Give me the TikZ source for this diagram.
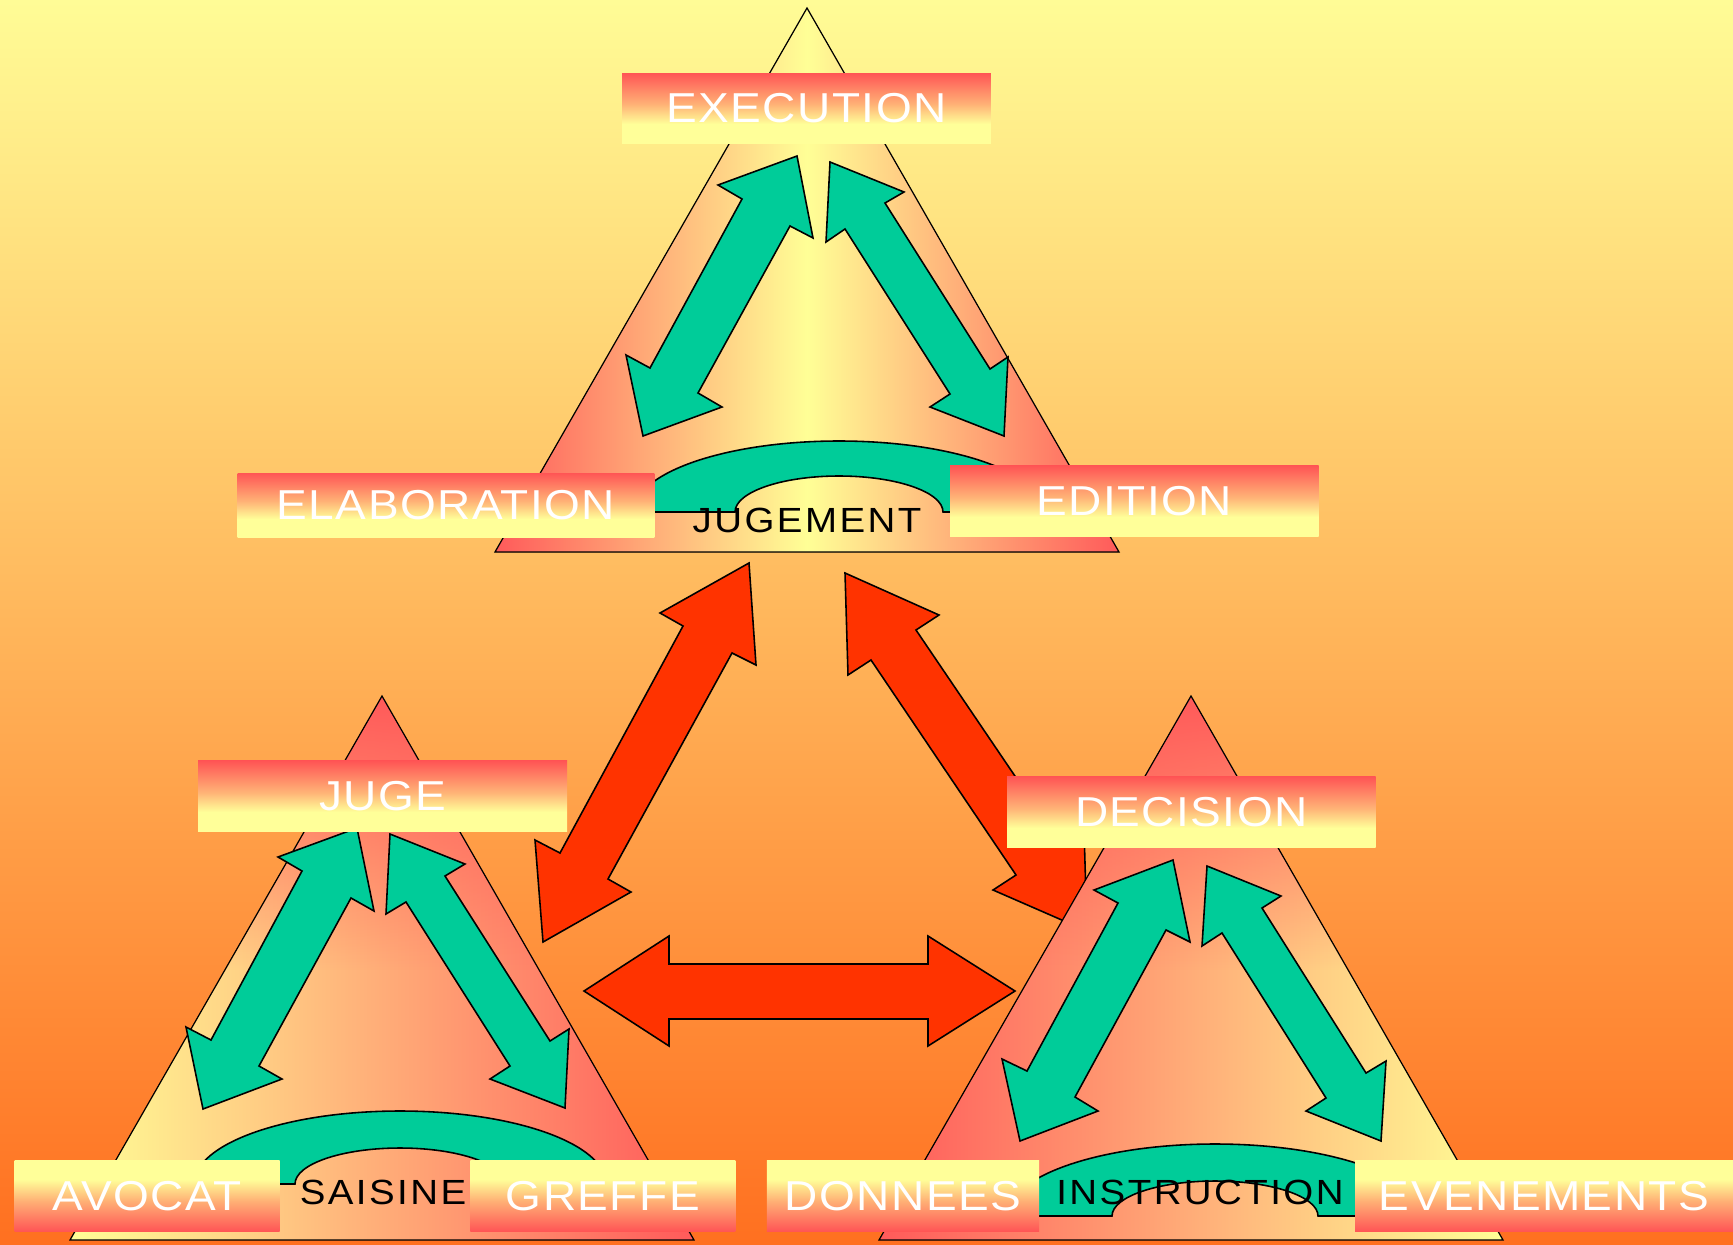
\documentclass[tikz,border=0pt]{standalone}
\usepackage{fontspec}
\setmainfont{Liberation Sans}
\newfontfamily\boxfont{Liberation Sans}[FakeStretch=1.10, LetterSpace=3.5]
\newfontfamily\midfont{Liberation Sans}[FakeStretch=1.10, LetterSpace=7]
\usetikzlibrary{fadings}

\definecolor{bgTop}{RGB}{255,252,150}
\definecolor{bgBot}{RGB}{255,112,32}
\definecolor{triRed}{RGB}{255,90,90}
\definecolor{triYel}{RGB}{255,255,150}
\definecolor{labRed}{RGB}{255,85,85}
\definecolor{labMid}{RGB}{255,178,118}
\definecolor{labYel}{RGB}{255,255,153}
\definecolor{arrGreen}{RGB}{0,204,153}
\definecolor{arrRed}{RGB}{255,51,0}

\pgfdeclareverticalshading{labdown}{100bp}{color(0bp)=(labYel); color(39bp)=(labYel); color(53bp)=(labMid); color(75bp)=(labRed); color(100bp)=(labRed)}
\pgfdeclareverticalshading{labup}{100bp}{color(0bp)=(labRed); color(25bp)=(labRed); color(47bp)=(labMid); color(62bp)=(labYel); color(100bp)=(labYel)}
\tikzfading[name=topred, top color=transparent!0, bottom color=transparent!100]

\tikzset{
	triline/.style={draw=black, line width=0.7pt},
	greenarrow/.style={fill=arrGreen, draw=black, line width=0.9pt},
	redarrow/.style={fill=arrRed, draw=black, line width=0.9pt},
	labtop/.style={shading=labdown, inner sep=0pt, minimum height=1.42cm, text=white, font=\boxfont\fontsize{23.8}{28}\selectfont},
	labbot/.style={shading=labup, inner sep=0pt, minimum height=1.41cm, text=white, font=\boxfont\fontsize{23.8}{28}\selectfont},
	midtext/.style={inner sep=0pt, text=black, font=\midfont\fontsize{19.9}{24}\selectfont}
}

\begin{document}
\begin{tikzpicture}[x=0.02cm,y=-0.02cm]

		\useasboundingbox (0,0) rectangle (1733,1244);
		\fill [top color=bgTop, bottom color=bgBot] (0,0) rectangle (1733,1244);

		% red arrows between the three triangles
		\draw [redarrow] (749,563) -- (756,665) -- (732,653) -- (608,879) -- (631,892) -- (543,942) -- (535,840) -- (560,853) -- (683,626) -- (660,613) -- cycle;
		\draw [redarrow] (845,573) -- (939,615) -- (916,630) -- (1061,844) -- (1084,829) -- (1087,931) -- (993,890) -- (1016,875) -- (871,660) -- (848,675) -- cycle;
		\draw [redarrow] (584,991) -- (669,936) -- (669,964) -- (928,964) -- (928,936) -- (1015,991) -- (928,1046) -- (928,1019) -- (669,1019) -- (669,1046) -- cycle;

		% triangles
		\fill [left color=triRed, right color=triRed, middle color=triYel] (807,8) -- (495,552) -- (1119,552) -- cycle;

		\fill [left color=triYel, right color=triRed] (382,696) -- (70,1240) -- (694,1240) -- cycle;
		\begin{scope}
			\clip (382,696) -- (70,1240) -- (694,1240) -- cycle;
			\fill [triRed, path fading=topred] (70,696) rectangle (694,970);
		\end{scope}

		\fill [left color=triRed, right color=triYel] (1191,696) -- (879,1240) -- (1503,1240) -- cycle;
		\begin{scope}
			\clip (1191,696) -- (879,1240) -- (1503,1240) -- cycle;
			\fill [triRed, path fading=topred] (879,696) rectangle (1503,970);
		\end{scope}

		\foreach \ax/\ay in {807/8,382/696,1191/696}{
				\draw [triline] (\ax,\ay) -- ++(-312,544) -- ++(624,0) -- cycle;
			}

		% green arrows
		\draw [greenarrow] (797,156) -- (813,238) -- (790,226) -- (698,393) -- (722,407) -- (643,436) -- (626,355) -- (650,368) -- (742,199) -- (718,185) -- cycle;
		\draw [greenarrow] (830,162) -- (904,192) -- (885,203) -- (990,369) -- (1008,357) -- (1004,436) -- (930,407) -- (950,394) -- (845,229) -- (826,242) -- cycle;
		\draw [greenarrow] (357,828) -- (374,911) -- (351,898) -- (259,1066) -- (282,1079) -- (203,1109) -- (186,1027) -- (211,1040) -- (302,871) -- (278,857) -- cycle;
		\draw [greenarrow] (390,834) -- (465,864) -- (445,876) -- (550,1041) -- (569,1029) -- (565,1108) -- (490,1079) -- (510,1066) -- (406,902) -- (386,914) -- cycle;
		\draw [greenarrow] (1173,860) -- (1190,942) -- (1166,930) -- (1075,1097) -- (1098,1111) -- (1020,1141) -- (1002,1059) -- (1027,1071) -- (1118,903) -- (1094,890) -- cycle;
		\draw [greenarrow] (1207,866) -- (1281,896) -- (1262,908) -- (1366,1073) -- (1386,1061) -- (1381,1141) -- (1306,1111) -- (1326,1098) -- (1222,933) -- (1202,946) -- cycle;

		% green arcs
		\draw [greenarrow] (634,512) arc [start angle=180, end angle=360, x radius=205, y radius=71] -- (943,512) arc [start angle=0, end angle=-180, x radius=104, y radius=36] -- cycle;
		\draw [greenarrow] (194,1184) arc [start angle=180, end angle=360, x radius=206, y radius=73] -- (505,1184) arc [start angle=0, end angle=-180, x radius=105, y radius=36] -- cycle;
		\draw [greenarrow] (1007,1216) arc [start angle=180, end angle=360, x radius=208, y radius=72] -- (1318,1216) arc [start angle=0, end angle=-180, x radius=103, y radius=35] -- cycle;

		% labels
		\node [labtop, minimum width=7.38cm] (execution) at (806.5,108.5) {EXECUTION};
		\node [labtop, minimum width=8.34cm, minimum height=1.28cm] (elaboration) at (446,505) {ELABORATION};
		\node [labtop, minimum width=7.37cm] (edition) at (1134.3,501.4) {EDITION};
		\node [labtop, minimum width=7.38cm] (juge) at (382.7,796.4) {JUGE};
		\node [labtop, minimum width=7.37cm] (decision) at (1191.3,812.4) {DECISION};
		\node [labbot, minimum width=5.30cm] (avocat) at (147.1,1196.2) {AVOCAT};
		\node [labbot, minimum width=5.30cm] (greffe) at (602.8,1196.2) {GREFFE};
		\node [labbot, minimum width=5.45cm] (donnees) at (903,1196.2) {DONNEES};
		\node [labbot, minimum width=7.56cm] (evenements) at (1544,1196.2) {EVENEMENTS};

		\node [midtext] (jugement) at (807,520) {JUGEMENT};
		\node [midtext] (saisine) at (383,1192) {SAISINE};
		\node [midtext] (instruction) at (1200,1192) {INSTRUCTION};

\end{tikzpicture}
\end{document}
